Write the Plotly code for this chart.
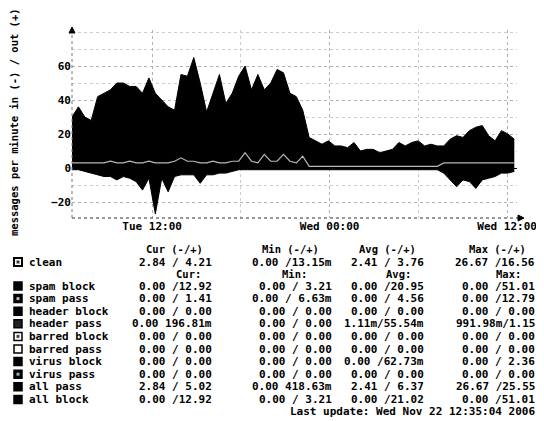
import plotly.graph_objects as go
import pandas as pd

# ---------------- data ----------------
START = "2006-11-21 06:35"
STEP = "26min"

out_values = [30, 36, 30, 28, 42, 44, 46, 50, 50, 48,
              48, 44, 53, 44, 40, 36, 34, 55, 54, 65,
              50, 33, 44, 55, 38, 44, 54, 60, 46, 55,
              46, 50, 58, 56, 44, 42, 34, 18, 16, 14,
              16, 13, 13, 12, 15, 10, 11, 11, 9, 10,
              11, 15, 13, 15, 16, 13, 14, 13, 13, 17,
              19, 18, 22, 24, 25, 19, 16, 22, 20, 17]

in_values = [-1, -1, -2, -3, -4, -5, -5, -7, -5, -6,
             -8, -13, -6, -27, -6, -14, -5, -4, -4, -4,
             -9, -4, -4, -3, -3, -2, -1, -1, -1, -1,
             -1, -1, -1, -1, -1, -1, -1, -1, -1, -1,
             -1, -1, -1, -1, -1, -1, -1, -1, -1, -1,
             -1, -1, -1, -1, -1, -1, -1, -1, -3, -7,
             -11, -7, -8, -12, -7, -6, -5, -3, -3, -2]

clean_values = [3, 3, 3, 3, 3, 3, 4, 3, 3, 4,
                3, 3, 4, 3, 3, 3, 4, 6, 4, 4,
                3, 3, 4, 3, 3, 4, 4, 9, 4, 3,
                8, 4, 4, 8, 4, 3, 7, 1, 1, 1,
                1, 1, 1, 1, 1, 1, 1, 1, 1, 1,
                1, 1, 1, 1, 1, 1, 1, 1, 3, 3,
                3, 3, 3, 3, 3, 3, 3, 3, 3, 3]

times = pd.date_range(START, periods=len(out_values), freq=STEP)

x_range = ["2006-11-21 06:35", "2006-11-22 12:40"]
y_range = [-29.4, 81.2]
y_ticks = [-20, 0, 20, 40, 60]
x_tick_times = ["2006-11-21 12:00", "2006-11-22 00:00", "2006-11-22 12:00"]
x_tick_labels = ["Tue 12:00", "Wed 00:00", "Wed 12:00"]

y_title = "messages per minute in (-) / out (+)"

col_headers = ["Cur (-/+)", "Min (-/+)", "Avg (-/+)", "Max (-/+)"]
col_headers2 = ["Cur:", "Min:", "Avg:", "Max:"]

clean_row = ["2.84 / 4.21", "0.00 /13.15m", "2.41 / 3.76", "26.67 /16.56"]

row_names = ["spam block", "spam pass", "header block", "header pass",
             "barred block", "barred pass", "virus block", "virus pass",
             "all pass", "all block"]
cur_col = ["0.00 /12.92", "0.00 / 1.41", "0.00 / 0.00", "0.00 196.81m",
           "0.00 / 0.00", "0.00 / 0.00", "0.00 / 0.00", "0.00 / 0.00",
           "2.84 / 5.02", "0.00 /12.92"]
min_col = ["0.00 / 3.21", "0.00 / 6.63m", "0.00 / 0.00", "0.00 / 0.00",
           "0.00 / 0.00", "0.00 / 0.00", "0.00 / 0.00", "0.00 / 0.00",
           "0.00 418.63m", "0.00 / 3.21"]
avg_col = ["0.00 /20.95", "0.00 / 4.56", "0.00 / 0.00", "1.11m/55.54m",
           "0.00 / 0.00", "0.00 / 0.00", "0.00 /62.73m", "0.00 / 0.00",
           "2.41 / 6.37", "0.00 /21.02"]
max_col = ["0.00 /51.01", "0.00 /12.79", "0.00 / 0.00", "991.98m/1.15",
           "0.00 / 0.00", "0.00 / 0.00", "0.00 / 2.36", "0.00 / 0.00",
           "26.67 /25.55", "0.00 /51.01"]

last_update = "Last update: Wed Nov 22 12:35:04 2006"

# ---------------- styles / layout (screen pixel design) ----------------
OFF = 8                      # browser default body margin
SCREEN_W, SCREEN_H = 544, 421
W, H = SCREEN_W - OFF, SCREEN_H - OFF
L, R, T, B = 72, 517, 30, 218   # plot area in screen pixels
FONT = "DejaVu Sans Mono"
icon_fill = ["black", "black", "black", "#222222", "white", "white",
             "black", "black", "black", "black"]
icon_dot = [None, "#bbbbbb", None, None, "#444444", None,
            None, "#aaaaaa", None, None]


def px(x):
    return (x - L) / (R - L)


def py(y):
    return (B - y) / (B - T)


fig = go.Figure()
fig.add_trace(go.Scatter(x=times, y=out_values, mode="lines", fill="tozeroy",
                         fillcolor="black", line=dict(color="black", width=1),
                         hoverinfo="skip", showlegend=False))
fig.add_trace(go.Scatter(x=times, y=in_values, mode="lines", fill="tozeroy",
                         fillcolor="black", line=dict(color="black", width=1),
                         hoverinfo="skip", showlegend=False))
fig.add_trace(go.Scatter(x=times, y=clean_values, mode="lines",
                         line=dict(color="#b8b8b8", width=1.2),
                         hoverinfo="skip", showlegend=False))

tick_font = dict(family=FONT, size=11, color="black", weight="bold")

fig.update_layout(
    width=W, height=H,
    margin=dict(l=L - OFF, r=SCREEN_W - R, t=T - OFF, b=SCREEN_H - B, autoexpand=False),
    paper_bgcolor="white", plot_bgcolor="white",
    xaxis=dict(range=x_range, type="date", tickvals=x_tick_times,
               ticktext=x_tick_labels, tickfont=tick_font, automargin=False,
               showgrid=True, gridcolor="#b0b0b0", griddash="dot",
               minor=dict(dtick=6 * 3600 * 1000, tick0="2006-11-21 00:00",
                          showgrid=True, gridcolor="#cccccc", griddash="dot"),
               showline=False, ticks="", zeroline=False, fixedrange=True),
    yaxis=dict(range=y_range, tickvals=y_ticks, tickfont=tick_font,
               automargin=False,
               showgrid=True, gridcolor="#b0b0b0", griddash="dot",
               minor=dict(dtick=10, showgrid=True, gridcolor="#cccccc",
                          griddash="dot"),
               zeroline=True, zerolinecolor="black", zerolinewidth=1,
               showline=False, ticks="", ticklen=0, fixedrange=True),
)

shapes = []
shapes.append(dict(type="line", xref="paper", yref="paper", x0=0, x1=px(521),
                   y0=0, y1=0, line=dict(color="#333333", width=1, dash="dot")))
shapes.append(dict(type="line", xref="paper", yref="paper", x0=0, x1=0,
                   y0=0, y1=py(28), line=dict(color="#777777", width=1, dash="dot")))
shapes.append(dict(type="path", xref="paper", yref="paper",
                   path=f"M {px(69)},{py(33)} L {px(75)},{py(33)} L {px(72)},{py(27)} Z",
                   fillcolor="black", line=dict(color="black", width=1)))
shapes.append(dict(type="path", xref="paper", yref="paper",
                   path=f"M {px(518)},{py(215)} L {px(518)},{py(221)} L {px(524)},{py(218)} Z",
                   fillcolor="black", line=dict(color="black", width=1)))

ann = []


def text(x, y, s, anchor="left", size=11):
    ann.append(dict(x=px(x), y=py(y), xref="paper", yref="paper", text=s,
                    showarrow=False, xanchor=anchor, yanchor="middle",
                    borderpad=0,
                    font=dict(family=FONT, size=size, color="black", weight="bold")))


ann.append(dict(x=px(14), y=py(122), xref="paper", yref="paper", text=y_title,
                showarrow=False, textangle=-90, xanchor="center", yanchor="middle",
                font=dict(family=FONT, size=10.5, color="black", weight="bold")))

col_right = [213, 333, 425, 536]
hdr_center = [174, 290, 387, 497]
hdr2_center = [188, 294, 398, 508]

for c, h in zip(hdr_center, col_headers):
    text(c, 249, h, "center", 10.5)
for c, h in zip(hdr2_center, col_headers2):
    text(c, 274, h, "center", 10.5)

text(28, 262, "clean")
shapes.append(dict(type="rect", xref="paper", yref="paper", x0=px(14), x1=px(22),
                   y0=py(258), y1=py(266), fillcolor="white",
                   line=dict(color="black", width=2)))
shapes.append(dict(type="rect", xref="paper", yref="paper", x0=px(16.5), x1=px(19.5),
                   y0=py(260.5), y1=py(263.5), fillcolor="#333333",
                   line=dict(width=0)))
for r, s in zip(col_right, clean_row):
    text(r, 262, s, "right")

row_y0, row_dy = 286, 12.6
for i, name in enumerate(row_names):
    yy = row_y0 + i * row_dy
    text(28, yy, name)
    shapes.append(dict(type="rect", xref="paper", yref="paper", x0=px(14), x1=px(22),
                       y0=py(yy - 4), y1=py(yy + 4), fillcolor=icon_fill[i],
                       line=dict(color="black", width=1.5)))
    if icon_dot[i]:
        shapes.append(dict(type="rect", xref="paper", yref="paper", x0=px(16.5),
                           x1=px(19.5), y0=py(yy - 1.5), y1=py(yy + 1.5),
                           fillcolor=icon_dot[i], line=dict(width=0)))
    for r, col in zip(col_right, [cur_col, min_col, avg_col, max_col]):
        text(r, yy, col[i], "right")

text(536, 411, last_update, "right")

fig.update_layout(shapes=shapes, annotations=ann)
fig.write_html("out.html")
